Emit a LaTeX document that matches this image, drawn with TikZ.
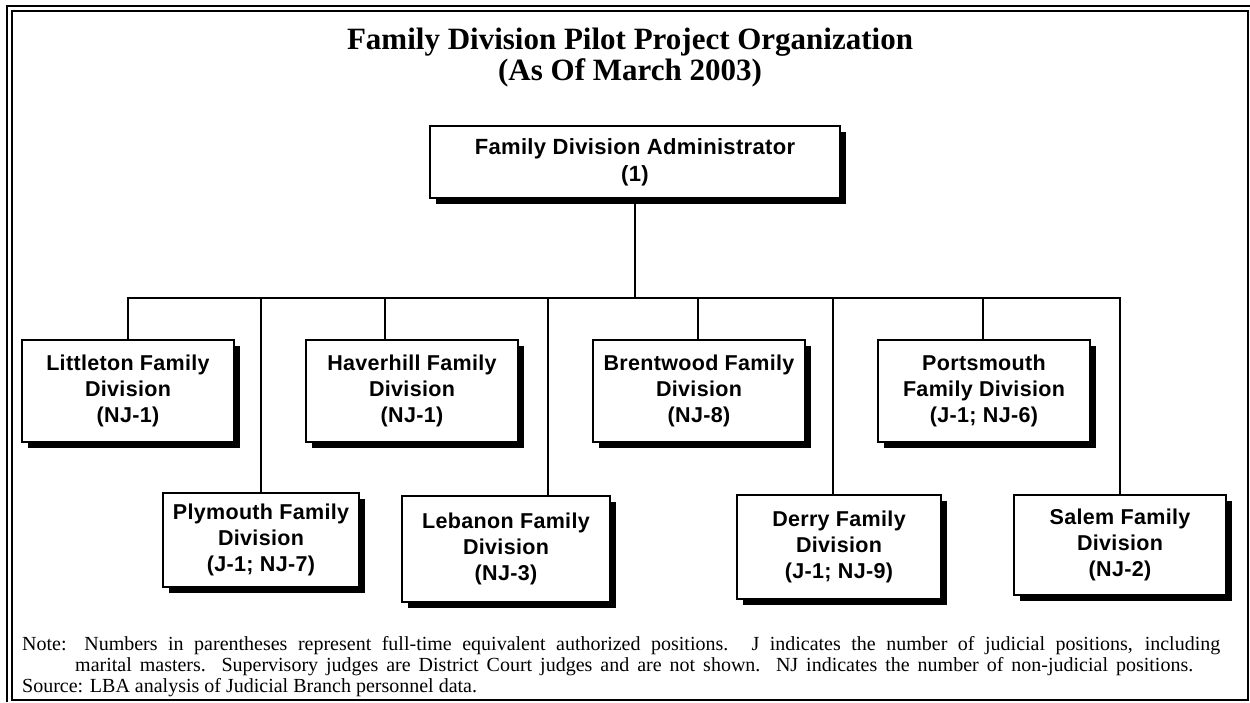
\documentclass[tikz,border=0pt]{standalone}
\usepackage{fontspec}
\setmainfont{Liberation Serif}
\newfontfamily\arialfont{Liberation Sans}[LetterSpace=1.5]
\usetikzlibrary{shadows,backgrounds}

\begin{document}
\begin{tikzpicture}[x=1pt,y=-1pt,
  orgbox/.style={draw=black, line width=1.1pt, fill=white, align=center, inner sep=0pt,
    font=\arialfont\bfseries\fontsize{21.5}{26}\selectfont,
    drop shadow={shadow xshift=6pt, shadow yshift=-6pt, opacity=1, fill=black}},
  conn/.style={line width=2.6pt, black},
  notetext/.style={inner sep=0pt, font=\fontsize{20}{21}\selectfont},
]
\useasboundingbox (0,0) rectangle (1250,702);

% page frame: double rule on the left and top
\draw[line width=2.2pt] (7,702) -- (7,6) -- (1250,6);
\draw[line width=1.8pt] (12,11) rectangle (1248,700);

% heading
\node[font=\bfseries\fontsize{31}{31}\selectfont, align=center] (title) at (630,58)
  {Family Division Pilot Project Organization\\(As Of March 2003)};

% organisation boxes
\node[orgbox, minimum width=410pt, minimum height=72pt,
      font=\arialfont\bfseries\fontsize{22}{27}\selectfont] (admin) at (635,162)
  {Family Division Administrator\\(1)};

\node[orgbox, minimum width=212pt, minimum height=102pt] (litt)  at (128,391) {Littleton Family\\Division\\(NJ-1)};
\node[orgbox, minimum width=212pt, minimum height=102pt] (hav)   at (412,391) {Haverhill Family\\Division\\(NJ-1)};
\node[orgbox, minimum width=212pt, minimum height=102pt] (brent) at (699,391) {Brentwood Family\\Division\\(NJ-8)};
\node[orgbox, minimum width=212pt, minimum height=102pt] (ports) at (984,391) {Portsmouth\\Family Division\\(J-1; NJ-6)};

\node[orgbox, minimum width=196pt, minimum height=94pt]  (plym)  at (261,540) {Plymouth Family\\Division\\(J-1; NJ-7)};
\node[orgbox, minimum width=208pt, minimum height=106pt] (leb)   at (506,549) {Lebanon Family\\Division\\(NJ-3)};
\node[orgbox, minimum width=204pt, minimum height=104pt] (derry) at (839,547) {Derry Family\\Division\\(J-1; NJ-9)};
\node[orgbox, minimum width=212pt, minimum height=100pt] (salem) at (1120,545) {Salem Family\\Division\\(NJ-2)};

% connectors
\begin{scope}[on background layer]
  \coordinate (bar)    at (635,298);
  \coordinate (dHav)   at (385,298);
  \coordinate (dBrent) at (698,298);
  \coordinate (dPorts) at (983,298);
  \coordinate (dPlym)  at (261,298);
  \coordinate (dLeb)   at (548,298);
  \coordinate (dDerry) at (833,298);
  \draw[conn] (admin.south) -- (admin.south |- bar);
  \draw[conn] (litt.north) -- (litt.north |- bar) -- (salem.north |- bar) -- (salem.north);
  \draw[conn] (dHav)   -- (dHav   |- hav.north);
  \draw[conn] (dBrent) -- (dBrent |- brent.north);
  \draw[conn] (dPorts) -- (dPorts |- ports.north);
  \draw[conn] (dPlym)  -- (dPlym  |- plym.north);
  \draw[conn] (dLeb)   -- (dLeb   |- leb.north);
  \draw[conn] (dDerry) -- (dDerry |- derry.north);
\end{scope}

% footnote
\node[notetext, anchor=base west] (note1) at (22,650)
  {\makebox[1198pt][s]{Note: Numbers in parentheses represent full-time equivalent authorized positions. J indicates the number of judicial positions, including}};
\node[notetext, anchor=base west] (note2) at (75,671)
  {\makebox[1118pt][s]{marital masters. Supervisory judges are District Court judges and are not shown. NJ indicates the number of non-judicial positions.}};
\node[notetext, anchor=base west] (src) at (22,692)
  {Source: LBA analysis of Judicial Branch personnel data.};
\end{tikzpicture}
\end{document}
